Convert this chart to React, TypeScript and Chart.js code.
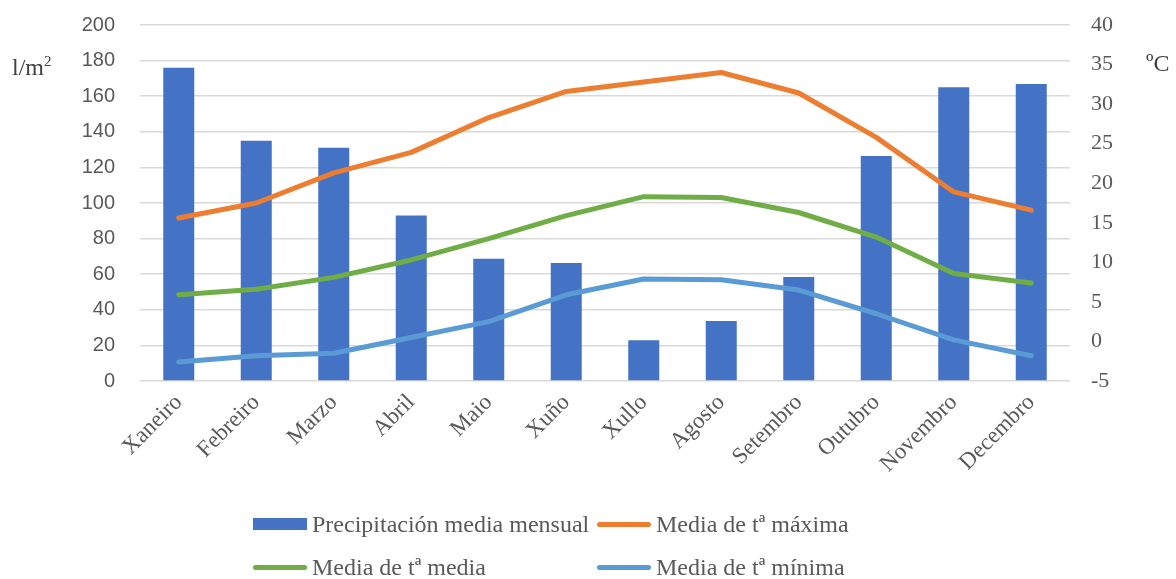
import React, { useEffect, useRef } from "react";
import { Chart, registerables } from "chart.js";

Chart.register(...registerables);

const months = ["Xaneiro", "Febreiro", "Marzo", "Abril", "Maio", "Xuño", "Xullo", "Agosto", "Setembro", "Outubro", "Novembro", "Decembro"];
const precipitacion = [176, 135, 131, 93, 68.7, 66.3, 22.9, 33.7, 58.4, 126.4, 165, 166.8];
const tMaxima = [15.6, 17.5, 21.3, 23.9, 28.3, 31.6, 32.8, 34.0, 31.4, 25.8, 18.9, 16.6];
const tMedia = [5.9, 6.6, 8.1, 10.3, 13.0, 15.9, 18.3, 18.2, 16.3, 13.2, 8.6, 7.4];
const tMinima = [-2.6, -1.8, -1.5, 0.5, 2.5, 5.9, 7.9, 7.8, 6.5, 3.5, 0.2, -1.8];

const seriesLabels = ["Precipitación media mensual", "Media de tª máxima", "Media de tª media", "Media de tª mínima"];
const colors = ["#4472C4", "#ED7D31", "#70AD47", "#5B9BD5"];

const W = 1176;
const H = 579;
const SERIF = "'Liberation Serif', 'Times New Roman', serif";
const SANS = "'Liberation Sans', Arial, sans-serif";
const GRAY = "#595959";

export default function App() {
  const ref = useRef<HTMLCanvasElement | null>(null);

  useEffect(() => {
    if (!ref.current) return;
    const lineDs = (i: number, data: number[]) => ({
      type: "line" as const,
      label: seriesLabels[i],
      data,
      yAxisID: "y1",
      borderColor: colors[i],
      backgroundColor: colors[i],
      borderWidth: 5,
      borderCapStyle: "round" as const,
      borderJoinStyle: "round" as const,
      pointRadius: 0,
      tension: 0,
      order: 1,
    });
    const chart = new Chart(ref.current, {
      type: "bar",
      data: {
        labels: months,
        datasets: [
          {
            type: "bar",
            label: seriesLabels[0],
            data: precipitacion,
            yAxisID: "y",
            backgroundColor: colors[0],
            borderWidth: 0,
            categoryPercentage: 1,
            barPercentage: 0.4,
            order: 2,
          },
          lineDs(1, tMaxima),
          lineDs(2, tMedia),
          lineDs(3, tMinima),
        ] as any,
      },
      options: {
        responsive: false,
        animation: false,
        maintainAspectRatio: false,
        layout: { padding: { top: 25, left: 0, right: 0, bottom: 0 } },
        plugins: { legend: { display: false }, tooltip: { enabled: false } },
        scales: {
          x: {
            grid: { display: false },
            border: { display: false },
            ticks: {
              autoSkip: false,
              minRotation: 45,
              maxRotation: 45,
              padding: 0,
              color: GRAY,
              font: { family: SERIF, size: 23 },
            },
            afterFit: (s: any) => { s.height = H - 381; s.paddingLeft = 0; s.paddingRight = 0; },
          },
          y: {
            position: "left",
            min: 0,
            max: 200,
            grid: { color: "#D9D9D9", lineWidth: 1.5, drawTicks: false },
            border: { display: false },
            ticks: { stepSize: 20, padding: 25, color: GRAY, font: { family: SANS, size: 20 } },
            afterFit: (s: any) => { s.width = 140; s.paddingTop = 0; s.paddingBottom = 0; },
          },
          y1: {
            position: "right",
            min: -5,
            max: 40,
            grid: { display: false, drawTicks: false },
            border: { display: false },
            ticks: { stepSize: 5, padding: 21, color: GRAY, font: { family: SERIF, size: 22 } },
            afterFit: (s: any) => { s.width = W - 1070; s.paddingTop = 0; s.paddingBottom = 0; },
          },
        },
      } as any,
    });
    return () => chart.destroy();
  }, []);

  const legendItems = [
    { i: 0, x: 253, y: 524 },
    { i: 1, x: 597, y: 524 },
    { i: 2, x: 253, y: 567 },
    { i: 3, x: 597, y: 567 },
  ];

  return (
    <div style={{ position: "absolute", left: 0, top: 0, width: W, height: H, background: "#fff", overflow: "hidden" }}>
      <canvas ref={ref} width={W} height={H} style={{ position: "absolute", left: 0, top: 0, width: W, height: H }} />
      <div style={{ position: "absolute", left: 12, top: 52, fontFamily: SERIF, fontSize: 24, color: "#404040", lineHeight: "30px" }}>
        l/m<sup style={{ fontSize: 15, verticalAlign: "9px", lineHeight: 0 }}>2</sup>
      </div>
      <div style={{ position: "absolute", left: 1146, top: 48, fontFamily: SERIF, fontSize: 24, color: "#404040", lineHeight: "30px" }}>
        ºC
      </div>
      {legendItems.map(({ i, x, y }) => (
        <div key={i} style={{ position: "absolute", left: x, top: y - 15, height: 30, display: "flex", alignItems: "center", whiteSpace: "nowrap" }}>
          {i === 0 ? (
            <span style={{ display: "inline-block", width: 54, height: 12, background: colors[0] }} />
          ) : (
            <span style={{ display: "inline-block", width: 54, height: 5, borderRadius: 3, background: colors[i] }} />
          )}
          <span style={{ marginLeft: 5, fontFamily: SERIF, fontSize: 24, color: GRAY, lineHeight: "30px" }}>{seriesLabels[i]}</span>
        </div>
      ))}
    </div>
  );
}
